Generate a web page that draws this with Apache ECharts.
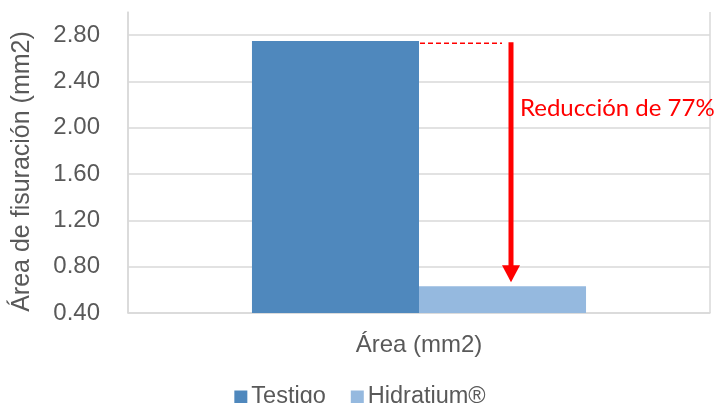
<!DOCTYPE html>
<html>
<head>
<meta charset="utf-8">
<script src="https://cdn.jsdelivr.net/npm/echarts@6/dist/echarts.min.js"></script>
<style>
html,body{margin:0;padding:0;background:#fff;}
#c{width:720px;height:403px;}
</style>
</head>
<body>
<div id="c"></div>
<script>
// ---- data ----
var categories = ['Área (mm2)'];
var seriesNames = ['Testigo', 'Hidratium®'];
var testigoValues = [2.75];
var hidratiumValues = [0.63];
var yTicks = [0.40, 0.80, 1.20, 1.60, 2.00, 2.40, 2.80];
var yTitle = 'Área de fisuración (mm2)';
var annotationText = 'Reducción de 77%';
var arrowFromValue = 2.73;
var arrowToValue = 0.665;

var FONT = '"Liberation Sans", Arial, sans-serif';
var GREY = '#595959';
var GRID = '#D9D9D9';

var chart = echarts.init(document.getElementById('c'));
var splitColors = yTicks.map(function(){ return GRID; }).concat(['rgba(0,0,0,0)']);

var option = {
  animation: false,
  backgroundColor: '#ffffff',
  grid: {left: 128, right: 10, top: 12, bottom: 90, containLabel: false},
  legend: {
    data: seriesNames,
    top: 380,
    left: 'center',
    icon: 'rect',
    itemWidth: 13,
    itemHeight: 13,
    itemGap: 25,
    textStyle: {fontFamily: FONT, fontSize: 23.5, color: GREY, padding: [0,0,0,-1]}
  },
  xAxis: {
    type: 'category',
    data: categories,
    axisLine: {show: true, lineStyle: {color: GRID, width: 1.5}},
    axisTick: {show: false},
    axisLabel: {fontFamily: FONT, fontSize: 24, color: GREY, margin: 20},
    splitLine: {show: true, lineStyle: {color: GRID, width: 1.5}}
  },
  yAxis: {
    type: 'value',
    min: 0.4,
    max: 3.0,
    interval: 0.4,
    axisLine: {show: true, lineStyle: {color: GRID, width: 1.5}},
    axisTick: {show: false},
    axisLabel: {
      fontFamily: FONT, fontSize: 24, color: GREY, margin: 28,
      formatter: function(v){ return v > 2.95 ? '' : v.toFixed(2); }
    },
    splitLine: {show: true, lineStyle: {color: splitColors, width: 1.5}}
  },
  series: [
    {name: seriesNames[0], type: 'bar', data: testigoValues, barWidth: '28.7%', barGap: '0%',
     itemStyle: {color: '#4F88BD'}},
    {name: seriesNames[1], type: 'bar', data: hidratiumValues, barWidth: '28.7%', barGap: '0%',
     itemStyle: {color: '#95B9DF'}}
  ]
};
chart.setOption(option);

function drawAnnotations(){
  var center = chart.convertToPixel({xAxisIndex: 0}, categories[0]);
  var yTop = chart.convertToPixel({yAxisIndex: 0}, arrowFromValue);
  var yBot = chart.convertToPixel({yAxisIndex: 0}, arrowToValue);
  var yAxisTop = chart.convertToPixel({yAxisIndex: 0}, 3.0);
  var yAxisBot = chart.convertToPixel({yAxisIndex: 0}, 0.4);
  var arrowX = center + 92;
  var headH = 17, headW = 9;
  chart.setOption({
    graphic: [
      {type: 'text', rotation: Math.PI/2, x: 22, y: (yAxisTop + yAxisBot)/2 + 9,
       style: {text: yTitle, fontFamily: FONT, fontSize: 25, fill: GREY, align: 'center', verticalAlign: 'middle'}},
      {type: 'line', shape: {x1: center + 1, y1: yTop, x2: arrowX - 9, y2: yTop},
       style: {stroke: '#FF0000', lineWidth: 1.3, lineDash: [5, 3]}},
      {type: 'line', shape: {x1: arrowX, y1: yTop - 1, x2: arrowX, y2: yBot - headH + 1},
       style: {stroke: '#FF0000', lineWidth: 5}},
      {type: 'polygon', shape: {points: [[arrowX - headW, yBot - headH], [arrowX + headW, yBot - headH], [arrowX, yBot]]},
       style: {fill: '#FF0000'}},
      {type: 'text', x: arrowX + 9, y: 108,
       style: {text: annotationText, fontFamily: 'Lato, "Liberation Sans", sans-serif', fontSize: 24, fill: '#FF0000', align: 'left', verticalAlign: 'middle'}}
    ]
  });
}
drawAnnotations();
</script>
</body>
</html>
